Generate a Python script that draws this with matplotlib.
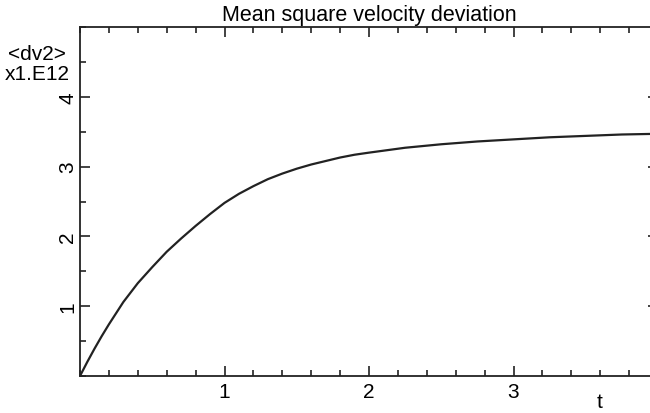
import matplotlib.pyplot as plt
from matplotlib.ticker import MultipleLocator

plt.rcParams['font.family'] = ['Liberation Sans', 'DejaVu Sans']

# mean square velocity deviation, units of 1e12
t = [0, 0.05, 0.1, 0.15, 0.2, 0.25, 0.3, 0.4, 0.5, 0.6, 0.7, 0.8, 0.9,
     1.0, 1.1, 1.2, 1.3, 1.4, 1.5, 1.6, 1.7, 1.8, 1.9, 2.0, 2.25, 2.5,
     2.75, 3.0, 3.25, 3.5, 3.75, 4.0]
dv2 = [0, 0.20, 0.39, 0.57, 0.74, 0.90, 1.06, 1.33, 1.56, 1.78, 1.97, 2.15,
       2.32, 2.48, 2.61, 2.72, 2.82, 2.90, 2.97, 3.03, 3.08, 3.13, 3.17,
       3.20, 3.27, 3.32, 3.36, 3.39, 3.42, 3.44, 3.46, 3.47]

x_ticks = [1, 2, 3]
y_ticks = [1, 2, 3, 4]

fig = plt.figure(figsize=(6.5, 4.14), dpi=100)
ax = fig.add_axes([80 / 650, 37 / 414, 578 / 650, 349 / 414])

ax.plot(t, dv2, color="#222222", lw=1.6)

ax.set_xlim(0, 4)
ax.set_ylim(0, 5)
ax.set_xticks(x_ticks)
ax.set_yticks(y_ticks)
ax.xaxis.set_minor_locator(MultipleLocator(0.2))
ax.yaxis.set_minor_locator(MultipleLocator(0.5))

ax.tick_params(which="both", direction="in", top=True, right=True,
               width=1.2, color="#222222", labelsize=15)
ax.tick_params(which="major", length=7)
ax.tick_params(which="minor", length=4.5)
ax.tick_params(axis="x", pad=4)
ax.tick_params(axis="y", pad=2)
for lbl in ax.get_yticklabels():
    lbl.set_rotation(90)
    lbl.set_va("center")

for s in ax.spines.values():
    s.set_linewidth(1.3)
    s.set_color("#222222")

ax.set_title("Mean square velocity deviation", fontsize=15.5, pad=5)

fig.text(37 / 650, 1 - 54 / 414, "<dv2>", ha="center", va="center", fontsize=15)
fig.text(37 / 650, 1 - 75 / 414, "x1.E12", ha="center", va="center", fontsize=15)
fig.text(600 / 650, 1 - 403 / 414, "t", ha="center", va="center", fontsize=15)

fig.savefig("out.png", dpi=100)
